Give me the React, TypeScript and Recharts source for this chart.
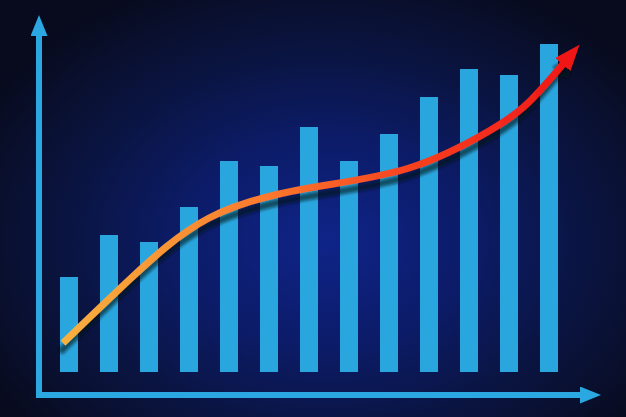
import React from "react";
import { ComposedChart, Bar, Line, XAxis, YAxis } from "recharts";

const categories = ["1", "2", "3", "4", "5", "6", "7", "8", "9", "10", "11", "12", "13"];
const barValues = [95, 137, 130, 165, 211, 206, 245, 211, 238, 275, 303, 297, 328];

// trend curve: x in bar-index units, y in the same units as the bars
const curveX = [-0.15, 1.5, 3.5, 6, 8.5, 10.5, 11.5, 12.375];
const curveY = [29, 92, 154, 184, 204, 241, 270, 309];

const AXIS_BLUE = "#2ba8e2";
const BAR_BLUE = "#2aa6df";

const barData = categories.map((c, i) => ({ cat: c, value: barValues[i] }));
const curveData = curveX.map((x, i) => ({ x, y: curveY[i] }));

export default function App() {
  return (
    <div
      style={{
        position: "absolute",
        left: 0,
        top: 0,
        width: 626,
        height: 417,
        background:
          "radial-gradient(ellipse 62% 68% at 52% 58%, #0f2488 0%, #0c1c6a 35%, #0a1440 68%, #080b1e 100%)",
      }}
    >
      <style>{`.recharts-line-curve { filter: url(#trendShadow); }`}</style>
      <ComposedChart
        width={626}
        height={417}
        data={barData}
        margin={{ top: 36, right: 46, bottom: 21, left: 38 }}
      >
        <defs>
          <linearGradient id="trendGrad" x1="0" y1="0" x2="1" y2="0">
            <stop offset="0%" stopColor="#f7b03e" />
            <stop offset="40%" stopColor="#fb7a2e" />
            <stop offset="70%" stopColor="#f7401f" />
            <stop offset="100%" stopColor="#f01818" />
          </linearGradient>
          <filter id="trendShadow" x="-10%" y="-10%" width="130%" height="140%">
            <feDropShadow dx="-3" dy="9" stdDeviation="1.5" floodColor="#000814" floodOpacity="0.6" />
          </filter>
          <marker
            id="axisArrow"
            markerUnits="userSpaceOnUse"
            markerWidth="21"
            markerHeight="17"
            refX="0"
            refY="8.5"
            orient="auto-start-reverse"
          >
            <path d="M0,0 L21,8.5 L0,17 z" fill={AXIS_BLUE} />
          </marker>
          <marker
            id="trendArrow"
            markerUnits="userSpaceOnUse"
            markerWidth="26"
            markerHeight="20"
            refX="2"
            refY="10"
            orient="auto"
          >
            <path d="M0,0 L26,10 L0,20 z" fill="#f01818" />
          </marker>
        </defs>
        <XAxis
          dataKey="cat"
          type="category"
          height={1}
          tick={false}
          tickLine={false}
          padding={{ left: 10, right: 11 }}
          axisLine={{
            stroke: AXIS_BLUE,
            strokeWidth: 6,
            strokeLinecap: "square",
            markerEnd: "url(#axisArrow)",
          }}
        />
        <XAxis
          xAxisId="curve"
          dataKey="x"
          type="number"
          domain={[-0.75, 12.775]}
          allowDataOverflow
          hide
        />
        <YAxis
          width={1}
          domain={[-23, 336]}
          allowDataOverflow
          tick={false}
          tickLine={false}
          axisLine={{
            stroke: AXIS_BLUE,
            strokeWidth: 6,
            strokeLinecap: "square",
            markerStart: "url(#axisArrow)",
          }}
        />
        <Bar dataKey="value" fill={BAR_BLUE} barSize={18} isAnimationActive={false} />
        <Line
          xAxisId="curve"
          data={curveData}
          dataKey="y"
          type="natural"
          stroke="url(#trendGrad)"
          strokeWidth={7}
          dot={false}
          activeDot={false}
          markerEnd="url(#trendArrow)"
          isAnimationActive={false}
        />
      </ComposedChart>
    </div>
  );
}
